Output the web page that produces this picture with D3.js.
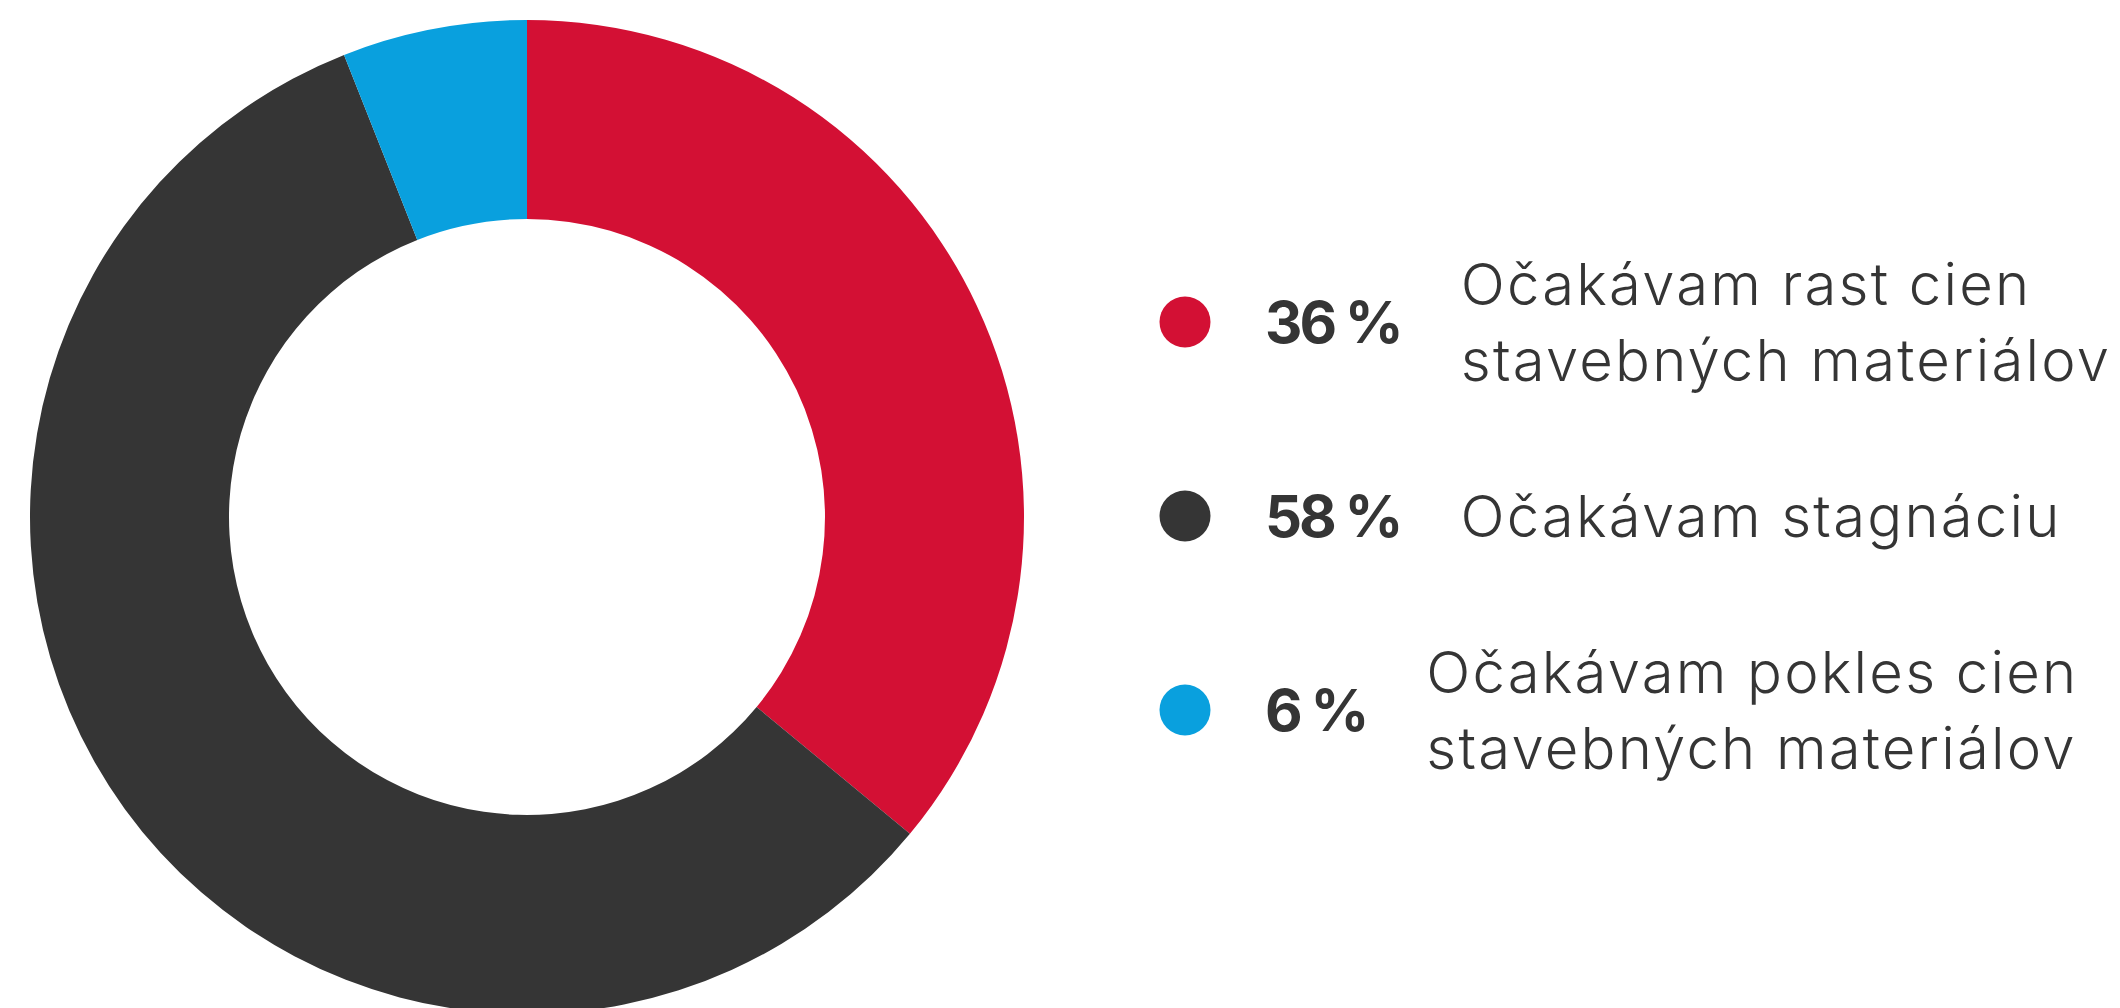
<!DOCTYPE html>
<head>
    <meta charset="utf-8">
    <script src="https://d3js.org/d3.v7.min.js"></script>
    <style>
      body { margin: 0; background: #fff; }
      text { fill: #353535; }
      .pct { font-family: Inter, "DejaVu Sans", sans-serif; font-weight: 700; font-size: 58px; letter-spacing: -3px; }
      .lbl { font-family: Inter, "DejaVu Sans", sans-serif; font-weight: 300; font-size: 58px; letter-spacing: 2.2px; }
    </style>
<body>
    <script>
        // data
        var categories = ["Očakávam rast cien stavebných materiálov", "Očakávam stagnáciu", "Očakávam pokles cien stavebných materiálov"]
        var labelLines = [["Očakávam rast cien", "stavebných materiálov"], ["Očakávam stagnáciu"], ["Očakávam pokles cien", "stavebných materiálov"]]
        var values = [36, 58, 6]
        var colors = ["#d31034", "#353535", "#09a0de"]

        var svg_w = 2120, svg_h = 1008
        var svg = d3.select("body").append("svg")
          .attr("width", svg_w)
          .attr("height", svg_h)

        var cx = 527, cy = 517
        var outerR = 497, innerR = 298

        var pie = d3.pie().sort(null).value(function(d){ return d })
        var arc = d3.arc().innerRadius(innerR).outerRadius(outerR)

        var donut = svg.append("g").attr("transform", "translate(" + cx + "," + cy + ")")
        donut.selectAll("path")
          .data(pie(values))
          .enter()
          .append("path")
          .attr("d", arc)
          .attr("fill", function(d, i){ return colors[i] })

        // LEGEND
        var rowY = d3.scalePoint().domain(d3.range(values.length)).range([322, 710])
        var lineH = 76
        var legend = svg.append("g")
        var rows = legend.selectAll(".row")
          .data(values)
          .enter()
          .append("g")
          .classed("row", true)
          .attr("transform", function(d, i){ return "translate(0," + rowY(i) + ")" })

        rows.append("circle")
          .attr("cx", 1185)
          .attr("r", 25.5)
          .attr("fill", function(d, i){ return colors[i] })

        rows.append("text")
          .classed("pct", true)
          .attr("x", 1265)
          .attr("y", 21)
          .text(function(d){ return d + " %" })

        rows.each(function(d, i){
          var row = d3.select(this)
          var pctEnd = 1265 + row.select(".pct").node().getComputedTextLength()
          var lines = labelLines[i]
          var y0 = 21 - (lines.length - 1) * lineH / 2
          var t = row.append("text").classed("lbl", true)
          lines.forEach(function(l, k){
            t.append("tspan")
              .attr("x", pctEnd + 60)
              .attr("y", y0 + k * lineH)
              .text(l)
          })
        })
    </script>
</body>
